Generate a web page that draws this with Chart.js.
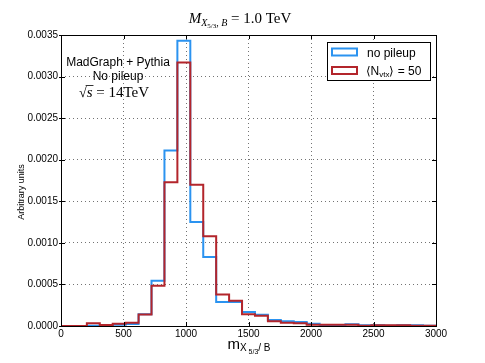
<!DOCTYPE html>
<html>
<head>
<meta charset="utf-8">
<script src="https://cdn.jsdelivr.net/npm/chart.js@4/dist/chart.umd.min.js"></script>
<style>
  html, body { margin: 0; padding: 0; background: #fff; }
  #wrap { width: 485px; height: 363px; }
</style>
</head>
<body>
<div id="wrap"><canvas id="grafico_massa"></canvas></div>
<script>
// histogram binning: 29 equal bins between 0 and 3000 GeV
const binCount = 29;
const xMin = 0;
const xMax = 3000;

// no pileup (blue)
const noPileup = [
  0, 0, 0.000004, 0.000012, 0.000016, 0.000024, 0.00014, 0.000545,
  0.00211, 0.00343, 0.00125, 0.00083, 0.00029, 0.00029, 0.000168,
  0.000136, 0.000072, 0.000056, 0.000048, 0.000028, 0.000008, 0.000012,
  0.00002, 0.000008, 0.000008, 0.000004, 0.000008, 0.00001, 0.000004
];

// <N_vtx> = 50 (red)
const pileup50 = [
  0, 0, 0.000032, 0.000012, 0.000028, 0.000038, 0.000138, 0.000485,
  0.00173, 0.00317, 0.0017, 0.00108, 0.00038, 0.000305, 0.00014,
  0.000124, 0.000056, 0.00004, 0.000032, 0.000016, 0.000016, 0.000016,
  0.000016, 0.000004, 0.000008, 0.000008, 0.00001, 0.000004, 0.000004
];

const xTicks = [0, 500, 1000, 1500, 2000, 2500, 3000];
const yTicks = [0, 0.0005, 0.001, 0.0015, 0.002, 0.0025, 0.003, 0.0035];

const sansFont = '"Liberation Sans", Arial, sans-serif';
const serifFont = '"Liberation Serif", "DejaVu Serif", serif';

// turn bin contents into step points at the left edge of each bin
function histPoints(values) {
  const width = (xMax - xMin) / binCount;
  const pts = values.map(function (v, i) {
    return { x: xMin + i * width, y: v };
  });
  pts.push({ x: xMax, y: 0 });
  return pts;
}

// draws pieces of text one after the other (for sub/superscripts)
function drawRuns(ctx, runs, x, y, align) {
  let total = 0;
  runs.forEach(function (r) {
    ctx.font = r.f;
    r.w = ctx.measureText(r.t).width;
    total += r.w;
  });
  let cx = align === "center" ? x - total / 2 : x;
  ctx.textAlign = "left";
  ctx.textBaseline = "alphabetic";
  runs.forEach(function (r) {
    ctx.font = r.f;
    ctx.fillText(r.t, cx, y + (r.dy || 0));
    r.x0 = cx;
    cx += r.w;
  });
  return runs;
}

const extras = {
  id: "extras",
  afterDraw: function (chart) {
    const ctx = chart.ctx;
    const area = chart.chartArea;
    const xs = chart.scales.x;
    const ys = chart.scales.y;
    ctx.save();
    ctx.fillStyle = "#000";
    ctx.strokeStyle = "#000";

    // frame
    ctx.lineWidth = 1;
    ctx.strokeRect(Math.round(area.left) + 0.5, Math.round(area.top) + 0.5,
      Math.round(area.right - area.left), Math.round(area.bottom - area.top));

    // inward ticks on all four sides
    ctx.beginPath();
    xTicks.forEach(function (t) {
      const px = Math.round(xs.getPixelForValue(t)) + 0.5;
      ctx.moveTo(px, area.bottom); ctx.lineTo(px, area.bottom - 4);
      ctx.moveTo(px, area.top); ctx.lineTo(px, area.top + 4);
    });
    yTicks.forEach(function (t) {
      const py = Math.round(ys.getPixelForValue(t)) + 0.5;
      ctx.moveTo(area.left - 2, py); ctx.lineTo(area.left + 4, py);
      ctx.moveTo(area.right, py); ctx.lineTo(area.right - 4, py);
    });
    ctx.stroke();

    // title
    drawRuns(ctx, [
      { t: "M", f: "italic 15px " + serifFont },
      { t: "X", f: "italic 10px " + serifFont, dy: 3 },
      { t: "5/3", f: "7px " + serifFont, dy: 5 },
      { t: ", ", f: "10px " + serifFont, dy: 3 },
      { t: "B", f: "italic 10px " + serifFont, dy: 3 },
      { t: " = 1.0 TeV", f: "15px " + serifFont }
    ], 240, 22.5, "center");

    // x axis label
    drawRuns(ctx, [
      { t: "m", f: "15px " + sansFont },
      { t: "X", f: "10px " + sansFont, dy: 2 },
      { t: " 5/3", f: "7px " + sansFont, dy: 5 },
      { t: "/ B", f: "10px " + sansFont, dy: 2 }
    ], 249, 349, "center");

    // y axis label
    ctx.save();
    ctx.translate(24, 192);
    ctx.rotate(-Math.PI / 2);
    ctx.font = "9px " + sansFont;
    ctx.textAlign = "center";
    ctx.textBaseline = "alphabetic";
    ctx.fillText("Arbitrary units", 0, 0);
    ctx.restore();

    // annotation top left
    ctx.font = "12px " + sansFont;
    ctx.textAlign = "center";
    ctx.fillText("MadGraph + Pythia", 118, 66);
    ctx.fillText("No pileup", 118, 80);
    const rs = drawRuns(ctx, [
      { t: "\u221A", f: "14px " + serifFont },
      { t: "s", f: "italic 15px " + serifFont },
      { t: " = 14TeV", f: "15px " + serifFont }
    ], 114, 97, "center");
    ctx.beginPath();
    ctx.lineWidth = 0.8;
    ctx.moveTo(rs[0].x0 + rs[0].w - 1, 85.5);
    ctx.lineTo(rs[1].x0 + rs[1].w + 1, 85.5);
    ctx.stroke();

    // legend
    ctx.fillStyle = "#fff";
    ctx.fillRect(327, 42, 103, 39);
    ctx.strokeStyle = "#000";
    ctx.lineWidth = 1;
    ctx.strokeRect(327.5, 42.5, 103, 38);
    const entries = [
      { ds: chart.data.datasets[1], y: 52 },
      { ds: chart.data.datasets[0], y: 70.5 }
    ];
    entries.forEach(function (e) {
      ctx.strokeStyle = e.ds.borderColor;
      ctx.lineWidth = 2;
      ctx.strokeRect(332, e.y - 3.5, 25, 7);
    });
    ctx.fillStyle = "#000";
    drawRuns(ctx, [{ t: "no pileup", f: "12px " + sansFont }], 367, 56.5, "left");
    drawRuns(ctx, [
      { t: "\u27E8N", f: "12px " + sansFont },
      { t: "vtx", f: "8px " + sansFont, dy: 2 },
      { t: "\u27E9 = 50", f: "12px " + sansFont }
    ], 365.5, 75, "left");

    ctx.restore();
  }
};

new Chart(document.getElementById("grafico_massa"), {
  type: "line",
  data: {
    datasets: [
      {
        label: "\u27E8Nvtx\u27E9 = 50",
        data: histPoints(pileup50),
        borderColor: "#b3252b",
        borderWidth: 2,
        stepped: "before",
        pointRadius: 0,
        fill: false
      },
      {
        label: "no pileup",
        data: histPoints(noPileup),
        borderColor: "#2b93f0",
        borderWidth: 2,
        stepped: "before",
        pointRadius: 0,
        fill: false
      }
    ]
  },
  options: {
    responsive: true,
    maintainAspectRatio: false,
    animation: false,
    layout: { padding: { left: 0, right: 49, top: 35, bottom: 0 } },
    plugins: {
      legend: { display: false },
      tooltip: { enabled: false }
    },
    scales: {
      x: {
        type: "linear",
        min: xMin,
        max: xMax,
        afterFit: function (scale) { scale.height = 37; },
        afterBuildTicks: function (scale) {
          scale.ticks = xTicks.map(function (v) { return { value: v }; });
        },
        ticks: {
          color: "#000",
          font: { family: sansFont, size: 10 },
          padding: 2,
          maxRotation: 0,
          autoSkip: false,
          callback: function (v) { return String(v); }
        },
        grid: {
          color: "rgba(0,0,0,0.55)",
          drawTicks: false,
          lineWidth: 1
        },
        border: { display: false, dash: [1, 3] }
      },
      y: {
        min: 0,
        max: 0.0035,
        afterFit: function (scale) { scale.width = 61; },
        afterBuildTicks: function (scale) {
          scale.ticks = yTicks.map(function (v) { return { value: v }; });
        },
        ticks: {
          color: "#000",
          font: { family: sansFont, size: 10 },
          padding: 3,
          autoSkip: false,
          callback: function (v) { return v.toFixed(4); }
        },
        grid: {
          color: "rgba(0,0,0,0.55)",
          drawTicks: false,
          lineWidth: 1
        },
        border: { display: false, dash: [1, 3] }
      }
    }
  },
  plugins: [extras]
});
</script>
</body>
</html>
